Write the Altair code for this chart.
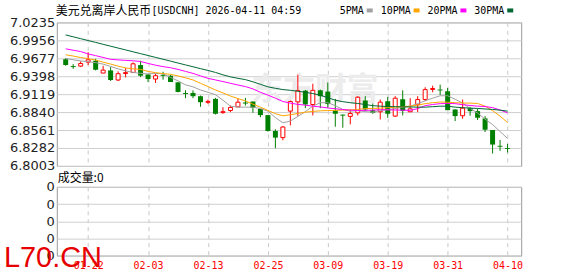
import altair as alt
import pandas as pd

# ---------------- data ----------------
tick_labels = ["01-22", "02-03", "02-13", "02-25", "03-09", "03-19", "03-31", "04-10"]
tick_index = [3, 11, 19, 27, 35, 43, 51, 59]
y_ticks = [7.0235, 6.9956, 6.9677, 6.9398, 6.9119, 6.8840, 6.8561, 6.8282, 6.8003]

open_ = [6.9663, 6.9555, 6.9555, 6.9617, 6.9638, 6.9447, 6.9488, 6.9339, 6.9440, 6.9457,
         6.9571, 6.9426, 6.9354, 6.9418, 6.9406, 6.9303, 6.9136, 6.9138, 6.9087, 6.8992,
         6.9045, 6.8832, 6.8865, 6.8922, 6.8989, 6.9004, 6.8891, 6.8793, 6.8546, 6.8443,
         6.8855, 6.8999, 6.9174, 6.8958, 6.9179, 6.9159, 6.8865, 6.8800, 6.8773, 6.8829,
         6.9020, 6.8870, 6.8845, 6.9009, 6.8778, 6.9040, 6.8845, 6.8953, 6.9035, 6.9192,
         6.9191, 6.9164, 6.8881, 6.8783, 6.8901, 6.8855, 6.8742, 6.8561, 6.8316, 6.8280]
high = [6.9679, 6.9586, 6.9632, 6.9771, 6.9669, 6.9560, 6.9540, 6.9473, 6.9524, 6.9612,
        6.9638, 6.9426, 6.9437, 6.9468, 6.9416, 6.9303, 6.9179, 6.9179, 6.9097, 6.9035,
        6.9061, 6.8917, 6.8942, 6.9051, 6.9061, 6.9004, 6.8891, 6.8793, 6.8572, 6.8623,
        6.9020, 6.9421, 6.9184, 6.9282, 6.9190, 6.9300, 6.9045, 6.8803, 6.8881, 6.9087,
        6.9087, 6.8973, 6.9035, 6.9076, 6.9087, 6.9179, 6.9056, 6.9087, 6.9226, 6.9251,
        6.9267, 6.9215, 6.8881, 6.9035, 6.8922, 6.8891, 6.8778, 6.8561, 6.8407, 6.8345]
low = [6.9560, 6.9514, 6.9540, 6.9571, 6.9488, 6.9447, 6.9323, 6.9323, 6.9380, 6.9447,
       6.9385, 6.9308, 6.9293, 6.9344, 6.9308, 6.9148, 6.9056, 6.9056, 6.8922, 6.8968,
       6.8803, 6.8814, 6.8840, 6.8922, 6.8942, 6.8829, 6.8760, 6.8536, 6.8278, 6.8402,
       6.8633, 6.8778, 6.8901, 6.8788, 6.8901, 6.8906, 6.8613, 6.8597, 6.8649, 6.8788,
       6.8855, 6.8814, 6.8726, 6.8752, 6.8762, 6.8788, 6.8845, 6.8840, 6.9009, 6.9148,
       6.9107, 6.8870, 6.8700, 6.8737, 6.8783, 6.8716, 6.8530, 6.8196, 6.8237, 6.8211]
close = [6.9571, 6.9540, 6.9596, 6.9653, 6.9499, 6.9493, 6.9339, 6.9437, 6.9454, 6.9591,
         6.9406, 6.9354, 6.9406, 6.9404, 6.9308, 6.9153, 6.9121, 6.9087, 6.8994, 6.9006,
         6.8814, 6.8847, 6.8912, 6.8994, 6.8973, 6.8906, 6.8793, 6.8546, 6.8443, 6.8608,
         6.9004, 6.9174, 6.8958, 6.9179, 6.9087, 6.8965, 6.8814, 6.8785, 6.8819, 6.9071,
         6.8881, 6.8829, 6.8994, 6.8814, 6.9056, 6.8860, 6.8891, 6.9035, 6.9190, 6.9207,
         6.9177, 6.8870, 6.8778, 6.8901, 6.8855, 6.8752, 6.8566, 6.8335, 6.8302, 6.8266]

ma5 = [6.9674, 6.9654, 6.9635, 6.9624, 6.9609, 6.9586, 6.9550, 6.9512, 6.9481, 6.9457,
       6.9442, 6.9434, 6.9442, 6.9434, 6.9380, 6.9326, 6.9264, 6.9233, 6.9184, 6.9148,
       6.9110, 6.9025, 6.8932, 6.8917, 6.8917, 6.8917, 6.8894, 6.8855, 6.8755, 6.8674,
       6.8700, 6.8773, 6.8847, 6.8932, 6.8986, 6.8986, 6.8940, 6.8881, 6.8855, 6.8863,
       6.8847, 6.8839, 6.8863, 6.8878, 6.8894, 6.8917, 6.8932, 6.8971, 6.9017, 6.9056,
       6.9094, 6.9094, 6.9040, 6.8979, 6.8897, 6.8824, 6.8731, 6.8646, 6.8538, 6.8430]
ma10 = [6.9731, 6.9712, 6.9689, 6.9671, 6.9649, 6.9617, 6.9587, 6.9555, 6.9527, 6.9512,
        6.9504, 6.9473, 6.9453, 6.9439, 6.9427, 6.9403, 6.9373, 6.9340, 6.9288, 6.9237,
        6.9184, 6.9138, 6.9090, 6.9050, 6.9014, 6.8963, 6.8917, 6.8866, 6.8816, 6.8782,
        6.8798, 6.8819, 6.8839, 6.8850, 6.8860, 6.8864, 6.8867, 6.8870, 6.8875, 6.8881,
        6.8894, 6.8898, 6.8901, 6.8909, 6.8917, 6.8924, 6.8932, 6.8948, 6.8971, 6.8986,
        6.8997, 6.8994, 6.8986, 6.8982, 6.8979, 6.8974, 6.8932, 6.8863, 6.8778, 6.8677]
ma20 = [6.9824, 6.9802, 6.9782, 6.9745, 6.9718, 6.9690, 6.9661, 6.9652, 6.9644, 6.9638,
        6.9627, 6.9597, 6.9570, 6.9547, 6.9530, 6.9504, 6.9473, 6.9442, 6.9403, 6.9365,
        6.9340, 6.9315, 6.9288, 6.9261, 6.9237, 6.9201, 6.9148, 6.9105, 6.9056, 6.9005,
        6.8979, 6.8960, 6.8948, 6.8932, 6.8920, 6.8904, 6.8892, 6.8880, 6.8870, 6.8866,
        6.8867, 6.8870, 6.8878, 6.8875, 6.8873, 6.8870, 6.8867, 6.8894, 6.8940, 6.8958,
        6.8971, 6.8974, 6.8971, 6.8955, 6.8943, 6.8932, 6.8927, 6.8909, 6.8873, 6.8829]
ma30 = [7.0040, 7.0011, 6.9982, 6.9953, 6.9924, 6.9894, 6.9865, 6.9836, 6.9807, 6.9778,
        6.9749, 6.9720, 6.9691, 6.9662, 6.9633, 6.9603, 6.9574, 6.9545, 6.9516, 6.9488,
        6.9457, 6.9419, 6.9388, 6.9365, 6.9345, 6.9311, 6.9272, 6.9233, 6.9210, 6.9190,
        6.9179, 6.9164, 6.9148, 6.9128, 6.9102, 6.9064, 6.9025, 6.9002, 6.8986, 6.8974,
        6.8958, 6.8940, 6.8932, 6.8927, 6.8924, 6.8921, 6.8920, 6.8917, 6.8917, 6.8924,
        6.8932, 6.8932, 6.8917, 6.8909, 6.8901, 6.8897, 6.8889, 6.8881, 6.8870, 6.8855]
volume = [0] * 60

ma_names = ["5PMA", "10PMA", "20PMA", "30PMA"]
ma_fields = ["ma5", "ma10", "ma20", "ma30"]
ma_colors = ["#a0a0a0", "#ffa500", "#ff00ff", "#006633"]

title_cjk = "美元兑离岸人民币"
title_ascii = "[USDCNH] 2026-04-11 04:59"
vol_title = "成交量:0"
brand = "L70.CN"
logo_text = "东方财富"

# ---------------- layout ----------------
W, H1, H2 = 466, 144, 69
LEFT, TOP, GAP = 56, 21, 21
CANVAS_W, CANVAS_H = 578, 276
STEP = 7.68
X0 = 4.0

UP = "#ff0000"
DOWN = "#008000"
MONO = "DejaVu Sans Mono"
CJK = "Noto Sans CJK SC"

n = len(open_)
df = pd.DataFrame({"i": list(range(n)), "open": open_, "high": high, "low": low,
                   "close": close, "ma5": ma5, "ma10": ma10, "ma20": ma20,
                   "ma30": ma30, "vol": volume})
df["dir"] = ["up" if c > o else "down" for o, c in zip(open_, close)]

xs = alt.Scale(domain=[-X0 / STEP, (W - X0) / STEP], nice=False, zero=False)
ys = alt.Scale(domain=[y_ticks[-1], y_ticks[0]], nice=False, zero=False)

x_axis_top = alt.Axis(values=tick_index, grid=True, gridDash=[4, 4], gridColor="#c8c8c8",
                      labels=False, ticks=False, domain=False, title=None)
y_axis_top = alt.Axis(values=y_ticks, format=".4f", grid=True, gridColor="#cfcfcf",
                      labelFont="DejaVu Sans", labelFontSize=13, labelColor="#222222",
                      labelPadding=2, labelFlush=False, labelOverlap=False,
                      ticks=False, domain=False, title=None)

def X():
    return alt.X("i:Q", scale=xs, axis=x_axis_top)

def Y(field):
    return alt.Y(f"{field}:Q", scale=ys, axis=y_axis_top)

one = pd.DataFrame({"k": [0]})

frame = alt.Chart(one).mark_rect(opacity=0).encode(
    x=alt.value(-LEFT), x2=alt.value(CANVAS_W - LEFT),
    y=alt.value(-TOP), y2=alt.value(CANVAS_H - TOP))

logo = alt.Chart(one).mark_text(text=logo_text, font=CJK, fontWeight="bold", fontSize=32,
                                color="#ececec", align="center", baseline="middle").encode(
    x=alt.value(259), y=alt.value(68))

base = alt.Chart(df)
wick_up = base.transform_filter("datum.dir == 'up'").mark_rule(color=UP, strokeWidth=1).encode(
    x=X(), y=Y("low"), y2="high:Q")
wick_dn = base.transform_filter("datum.dir == 'down'").mark_rule(color=DOWN, strokeWidth=1).encode(
    x=X(), y=Y("low"), y2="high:Q")
body_dn = base.transform_filter("datum.dir == 'down'").mark_bar(size=5, color=DOWN).encode(
    x=X(), y=Y("open"), y2="close:Q")
body_up = base.transform_filter("datum.dir == 'up'").mark_bar(
    size=4, fill="white", stroke=UP, strokeWidth=1).encode(
    x=X(), y=Y("open"), y2="close:Q")

ma_layers = [base.mark_line(color=c, strokeWidth=1).encode(x=X(), y=Y(f))
             for f, c in zip(ma_fields, ma_colors)]

texts = [
    alt.Chart(one).mark_text(text=title_cjk, font=CJK, fontSize=12, color="#000000",
                             align="left", baseline="middle").encode(
        x=alt.value(-1), y=alt.value(-11.5)),
    alt.Chart(one).mark_text(text=title_ascii, font=MONO, fontSize=10, color="#000000",
                             align="left", baseline="middle").encode(
        x=alt.value(95), y=alt.value(-11.5)),
]
lx = 340 - LEFT
for name, col in zip(ma_names, ma_colors):
    texts.append(alt.Chart(one).mark_text(text=name, font=MONO, fontSize=10, color="#000000",
                                          align="left", baseline="middle").encode(
        x=alt.value(lx), y=alt.value(-11.5)))
    sq = lx + 6 * len(name) + 3
    texts.append(alt.Chart(one).mark_rect(color=col).encode(
        x=alt.value(sq), x2=alt.value(sq + 6), y=alt.value(-14), y2=alt.value(-10)))
    lx = sq + 14

top = alt.layer(frame, logo, wick_up, wick_dn, body_dn, body_up, *ma_layers, *texts).properties(
    width=W, height=H1)

# ---------------- volume panel ----------------
label_expr = "[" + ",".join(f"'{t}'" for t in tick_labels) + "][indexof([" + \
    ",".join(str(v) for v in tick_index) + "], datum.value)]"

vol_bars = alt.Chart(df).mark_bar(size=5, color=DOWN).encode(
    x=alt.X("i:Q", scale=xs, axis=alt.Axis(
        values=tick_index, grid=True, gridDash=[4, 4], gridColor="#c8c8c8",
        labelExpr=label_expr, labelColor="#ff0000", labelFont=MONO, labelFontSize=10,
        labelPadding=5, labelFlush=False, labelOverlap=False, ticks=False, domain=False,
        title=None)),
    y=alt.Y("vol:Q", scale=alt.Scale(domain=[0, 4], nice=False, zero=True), axis=alt.Axis(
        values=[0, 1, 2, 3, 4], labelExpr="'0'", grid=True, gridColor="#cfcfcf",
        labelFont="DejaVu Sans", labelFontSize=13, labelColor="#222222", labelPadding=2.5,
        labelFlush=False, labelOverlap=False, ticks=False, domain=False, title=None)))

vol_label = alt.Chart(one).mark_text(text=vol_title, font=CJK, fontSize=12, color="#000000",
                                     align="left", baseline="middle").encode(
    x=alt.value(1), y=alt.value(-8.5))
brand_text = alt.Chart(one).mark_text(text=brand, font="Liberation Sans", fontSize=29,
                                      color="#e60000", align="left",
                                      baseline="alphabetic").encode(
    x=alt.value(-53), y=alt.value(80))

bottom = alt.layer(vol_bars, vol_label, brand_text).properties(width=W, height=H2)

chart = alt.vconcat(top, bottom, spacing=GAP, bounds="flush").properties(
    padding={"left": 0, "top": 0, "right": 0, "bottom": 0},
    background="white",
).configure_view(stroke="#999999", strokeWidth=1)

chart.save("out.html", embed_options={"renderer": "svg", "actions": False})
